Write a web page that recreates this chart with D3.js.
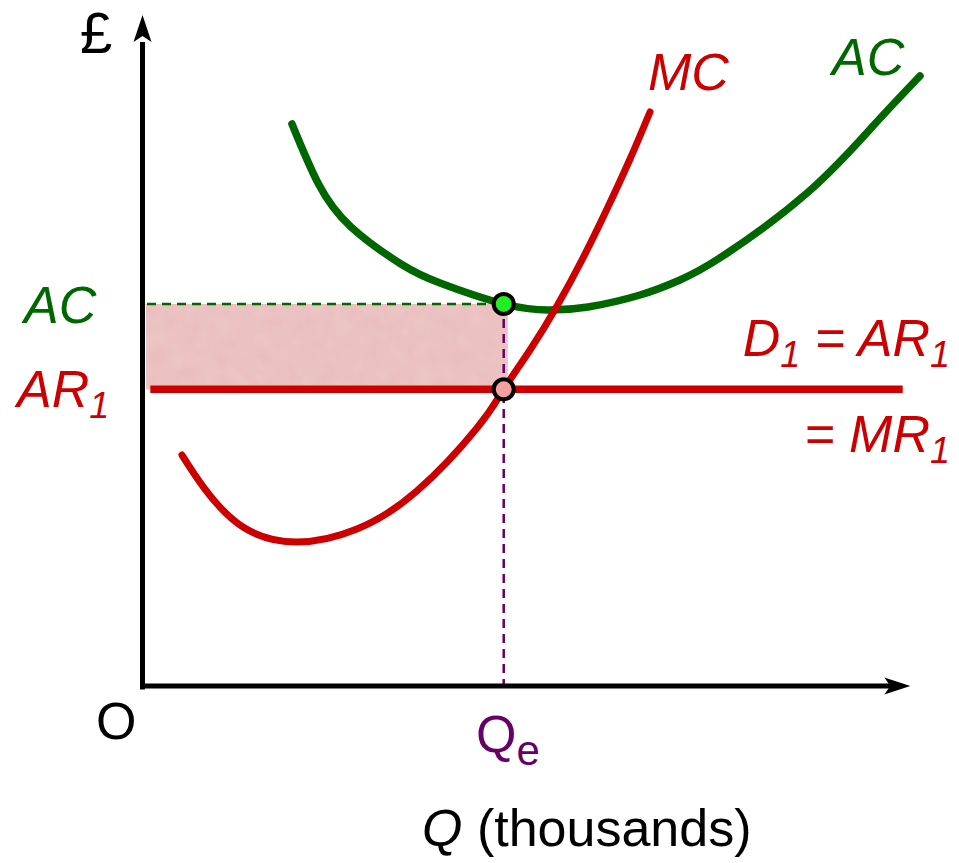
<!DOCTYPE html>
<html>
<head>
<meta charset="utf-8">
<script src="https://cdn.jsdelivr.net/npm/d3@7"></script>
<style>
  html, body { margin: 0; padding: 0; background: #fff; }
  svg { display: block; }
  text { font-family: "Liberation Sans", Arial, sans-serif; }
</style>
</head>
<body>
<svg id="chart" width="959" height="863"></svg>
<script>
// ---- data (x: quantity 0-100, y: price 0-100) ----
const mcQ   = [4.87, 7.89, 12.89, 20.0, 27.89, 35.79, 43.68, 47.2, 50.66, 54.21, 57.63, 60.79, 63.82, 66.45];
const mcP   = [34.52, 29.46, 23.81, 21.58, 23.51, 29.17, 38.54, 44.3, 50.15, 56.7, 63.84, 71.13, 78.57, 85.57];
const acQ   = [19.34, 22.76, 27.11, 33.68, 38.82, 47.2, 53.03, 58.29, 65.13, 70.39, 76.05, 87.11, 95.79, 101.97];
const acP   = [83.78, 75.0, 68.45, 62.95, 60.12, 57.0, 56.1, 56.55, 58.33, 60.57, 64.14, 73.51, 83.48, 90.92];
const arRange = [0.7, 99.7];
const Qe = 47.2;
const AR1 = 44.3;
const ACe = 57.0;

const svg = d3.select("#chart");
const x = d3.scaleLinear().domain([0, 100]).range([145, 905]);
const y = d3.scaleLinear().domain([0, 100]).range([687, 15]);

const red = "#cc0000", green = "#006600", purple = "#660066";

// defs: texture for shaded area
const defs = svg.append("defs");
const f = defs.append("filter").attr("id", "mottle").attr("x", 0).attr("y", 0).attr("width", 1).attr("height", 1);
f.append("feTurbulence").attr("type", "fractalNoise").attr("baseFrequency", 0.06).attr("numOctaves", 2).attr("seed", 3).attr("result", "noise");
f.append("feColorMatrix").attr("in", "noise").attr("type", "matrix")
  .attr("values", "0 0 0 0 0.85  0 0 0 0 0.64  0 0 0 0 0.64  0 0 0 0.5 0").attr("result", "tint");
f.append("feComposite").attr("in", "tint").attr("in2", "SourceGraphic").attr("operator", "in").attr("result", "t2");
f.append("feMerge").selectAll("feMergeNode").data(["SourceGraphic", "t2"]).join("feMergeNode").attr("in", d => d);

// shaded loss area
svg.append("rect")
  .attr("x", x(0) + 1)
  .attr("y", y(ACe))
  .attr("width", x(Qe) - x(0) + 3)
  .attr("height", y(AR1) - y(ACe))
  .attr("fill", "#eabcbc")
  .attr("filter", "url(#mottle)");

// dashed guides
svg.append("line")
  .attr("x1", x(0) + 2).attr("x2", x(Qe))
  .attr("y1", y(ACe)).attr("y2", y(ACe))
  .attr("stroke", green).attr("stroke-width", 2.5).attr("stroke-dasharray", "9,6");
svg.append("line")
  .attr("x1", x(Qe)).attr("x2", x(Qe))
  .attr("y1", y(ACe)).attr("y2", y(0))
  .attr("stroke", purple).attr("stroke-width", 2.5).attr("stroke-dasharray", "9,6");

// axes
const axisG = svg.append("g");
axisG.append("line").attr("x1", x(0) - 2.5).attr("x2", x(0) - 2.5).attr("y1", y(0) + 2.5).attr("y2", y(96))
  .attr("stroke", "#000").attr("stroke-width", 5);
axisG.append("line").attr("x1", x(0) - 5).attr("x2", x(99)).attr("y1", y(0) - 1).attr("y2", y(0) - 1)
  .attr("stroke", "#000").attr("stroke-width", 5);
const ax = x(0) - 2.5, ayTip = y(100);
axisG.append("path")
  .attr("d", `M${ax},${ayTip} L${ax + 9},${ayTip + 27} L${ax},${ayTip + 21} L${ax - 9},${ayTip + 27} Z`)
  .attr("fill", "#000");
const bx = x(100.7), by = y(0) - 1;
axisG.append("path")
  .attr("d", `M${bx},${by} L${bx - 26},${by - 8.5} L${bx - 20},${by} L${bx - 26},${by + 8.5} Z`)
  .attr("fill", "#000");

const line = d3.line().x(d => x(d[0])).y(d => y(d[1])).curve(d3.curveNatural);

// AR line
svg.append("line")
  .attr("x1", x(arRange[0])).attr("x2", x(arRange[1]))
  .attr("y1", y(AR1)).attr("y2", y(AR1))
  .attr("stroke", red).attr("stroke-width", 7.5);

// AC curve
svg.append("path")
  .attr("d", line(d3.zip(acQ, acP)))
  .attr("fill", "none").attr("stroke", green).attr("stroke-width", 7.5).attr("stroke-linecap", "round");

// MC curve
svg.append("path")
  .attr("d", line(d3.zip(mcQ, mcP)))
  .attr("fill", "none").attr("stroke", red).attr("stroke-width", 7).attr("stroke-linecap", "round");

// points
svg.append("circle").attr("cx", x(Qe)).attr("cy", y(ACe)).attr("r", 10)
  .attr("fill", "#22ee22").attr("stroke", "#000").attr("stroke-width", 4);
svg.append("circle").attr("cx", x(Qe)).attr("cy", y(AR1)).attr("r", 10)
  .attr("fill", "#f4a0a0").attr("stroke", "#000").attr("stroke-width", 4);

// labels
const fs = 52;
function label(px, py, parts, color, anchor) {
  const t = svg.append("text").attr("x", px).attr("y", py).attr("fill", color)
    .attr("font-size", fs).attr("text-anchor", anchor || "start");
  parts.forEach(p => {
    const s = t.append("tspan").text(p.t);
    if (p.italic) s.attr("font-style", "italic");
    if (p.sub) s.attr("font-size", 36).attr("dy", 11);
    if (p.up) s.attr("dy", -11);
  });
  return t;
}
svg.append("text").attr("x", 80).attr("y", 53).attr("font-size", 58)
  .attr("font-family", "Liberation Serif").attr("fill", "#000").text("£");
label(24, 323, [{t: "AC", italic: true}], green);
label(17, 407, [{t: "AR", italic: true}, {t: "1", italic: true, sub: true}], red);
label(648, 90, [{t: "MC", italic: true}], red);
label(832, 75, [{t: "AC", italic: true}], green);
label(950, 356, [{t: "D", italic: true}, {t: "1", italic: true, sub: true}, {t: " = AR", italic: true, up: true}, {t: "1", italic: true, sub: true}], red, "end");
label(950, 452, [{t: "= MR", italic: true}, {t: "1", italic: true, sub: true}], red, "end");
label(96, 739, [{t: "O"}], "#000");
label(476, 752, [{t: "Q"}, {t: "e", sub: true}], purple).select("tspan:nth-child(2)").attr("font-size", 42).attr("dy", 13);
label(422, 846, [{t: "Q", italic: true}, {t: " (thousands)"}], "#000");
</script>
</body>
</html>
